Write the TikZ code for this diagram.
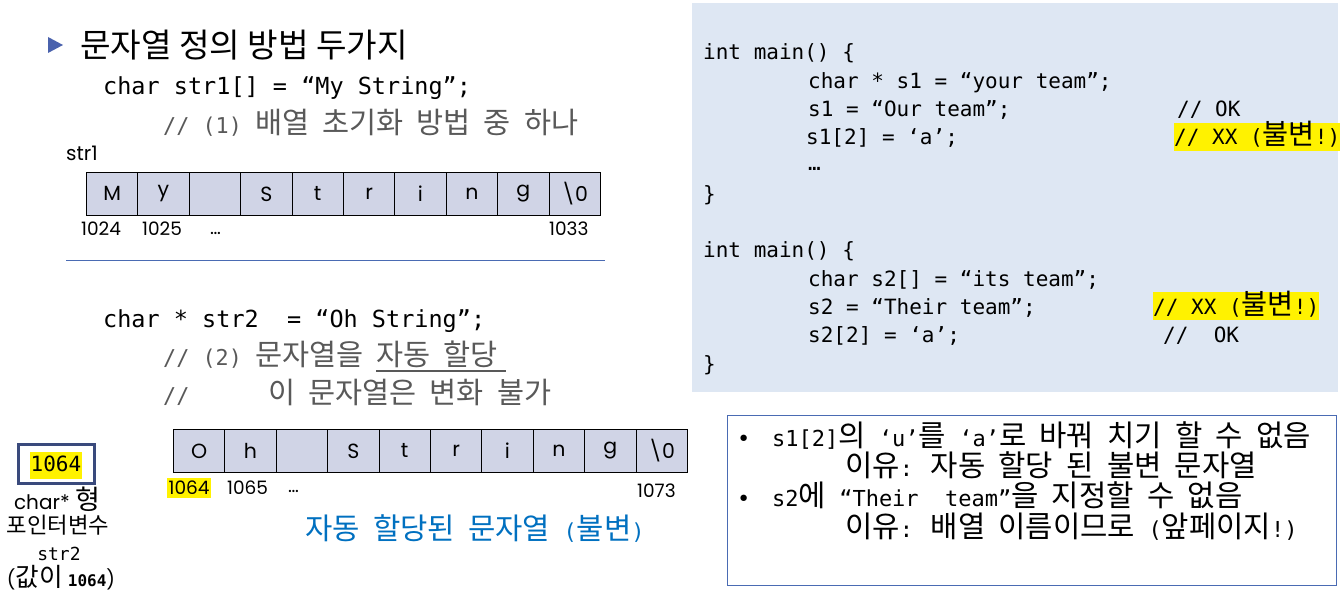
\documentclass[tikz,border=0pt]{standalone}
\usepackage{fontspec}
\newfontfamily\mono{DejaVu Sans Mono}
\newfontfamily\kr[Scale=1.35]{Noto Sans CJK KR}
\newfontfamily\gothic{Poppins}
\newcommand\K[1]{{\kr #1}}
\definecolor{boxbg}{HTML}{DEE7F3}
\definecolor{cellfill}{HTML}{D0D4E6}
\definecolor{navy}{HTML}{3A4A7C}
\definecolor{sepblue}{HTML}{4A6BB3}
\definecolor{tri}{HTML}{4A62AD}
\definecolor{bluetext}{HTML}{0070C0}
\definecolor{cgray}{HTML}{595959}
\tikzset{
  txt/.style={anchor=base west, inner sep=0},
  codeL/.style={txt, font=\fontsize{23.5}{28}\selectfont\mono},
  cmtL/.style={txt, text=cgray, font=\fontsize{21.8}{26}\selectfont\mono},
  codeR/.style={txt, font=\fontsize{21}{25}\selectfont\mono},
  noteT/.style={txt, font=\fontsize{22}{26}\selectfont\mono},
  cell/.style={draw, line width=0.8pt, fill=cellfill, minimum width=51.4, minimum height=43,
    inner sep=0, anchor=north west, font=\fontsize{20.5}{22}\selectfont\gothic},
  addr/.style={txt, font=\fontsize{18.5}{20}\selectfont\gothic},
  hl/.style={fill=yellow, inner xsep=0, inner ysep=0, text height=22, text depth=6},
  lbl/.style={anchor=base, inner sep=0, font=\fontsize{16.5}{20}\selectfont\gothic},
}
\begin{document}
\begin{tikzpicture}[x=1pt,y=-1pt]
\useasboundingbox (0,0) rectangle (1344,596);
\fill[white] (0,0) rectangle (1344,596);

% ---------- left: title ----------
\fill[tri] (48,37) -- (63,45) -- (48,53) -- cycle;
\node[txt, font=\fontsize{24.6}{30}\selectfont\kr] (title) at (80,58) {문자열 정의 방법 두가지};

% ---------- left: str1 ----------
\node[codeL] (l1) at (103,95) {char str1[] = “My String”;};
\node[cmtL] (l2) at (163,134) {// (1) \K{배열} \K{초기화} \K{방법} \K{중} \K{하나}};
\node[addr, font=\fontsize{20}{22}\selectfont\gothic] (s1lbl) at (66,161) {str1};
\foreach \t [count=\i from 0] in {M,y,{},S,t,r,i,n,g,\textbackslash 0}
  \node[cell] (a\i) at (86+51.4*\i,172) {\t};
\node[addr] (a1024) at (81,236) {1024};
\node[addr] (a1025) at (142,236) {1025};
\node[addr] (adots) at (210,234) {…};
\node[addr] (a1033) at (549,236) {1033};
\draw[sepblue, line width=1] (66,260) -- (605,260);

% ---------- left: str2 ----------
\node[codeL] (l3) at (103,327) {char * str2\ \ = “Oh String”;};
\node[cmtL] (l4) at (163,365) {// (2) \K{문자열을} \K{자동} \K{할당}};
\draw[cgray, line width=1.5] (376,371) -- (506,371);
\node[cmtL] (l5) at (163,403) {//\ \ \ \ \ \ \K{이} \K{문자열은} \K{변화} \K{불가}};
\foreach \t [count=\i from 0] in {O,h,{},S,t,r,i,n,g,\textbackslash 0}
  \node[cell] (b\i) at (173+51.4*\i,429) {\t};
\node[addr, fill=yellow, inner xsep=1.5, inner ysep=0, text height=16, text depth=4] (b1064) at (167,494) {1064};
\node[addr] (b1065) at (227,494) {1065};
\node[addr] (bdots) at (288,492) {…};
\node[addr] (b1073) at (637,497) {1073};
\node[txt, text=bluetext, font=\fontsize{22}{26}\selectfont\mono] (auto) at (305,539) {\K{자동} \K{할당된} \K{문자열} (\K{불변})};

% ---------- pointer variable ----------
\node[draw=navy, line width=3, minimum width=76, minimum height=39, inner sep=0] (ptr) at (56.5,464) {};
\node[hl, inner xsep=1, font=\fontsize{21}{25}\selectfont\mono, text height=20, text depth=7] (pv) at (56,465) {1064};
\node[lbl, font=\fontsize{20}{22}\selectfont\gothic] (p1) at (57,509) {char* \K{형}};
\node[lbl] (p2) at (58,533) {\K{포인터변수}};
\node[lbl, font=\fontsize{18}{20}\selectfont\mono] (p3) at (59,560) {str2};
\node[lbl, font=\fontsize{19}{22}\selectfont\gothic] (p4) at (61,586) {(\K{값이} {\mono\bfseries\fontsize{16}{18}\selectfont 1064})};

% ---------- right: code box ----------
\node[fill=boxbg, minimum width=646, minimum height=389, anchor=north west, inner sep=0] (codebox) at (692,3) {};
\node[codeR] (r1) at (703,60) {int main() \{};
\node[codeR] (r2) at (808,89) {char * s1 = “your team”;};
\node[codeR] (r3) at (808,117) {s1 = “Our team”;};
\node[codeR] (r3c) at (1177,117) {// OK};
\node[codeR] (r4) at (806,145) {s1[2] = ‘a’;};
\node[codeR, hl, anchor=base west] (r4c) at (1174,145) {// XX (\K{불변}!)};
\node[codeR] (r5) at (808,171) {…};
\node[codeR] (r6) at (703,202) {\}};
\node[codeR] (r7) at (703,258) {int main() \{};
\node[codeR] (r8) at (808,286) {char s2[] = “its team”;};
\node[codeR] (r9) at (808,314) {s2 = “Their team”;};
\node[codeR, hl, anchor=base west] (r9c) at (1153,314) {// XX (\K{불변}!)};
\node[codeR] (r10) at (808,342) {s2[2] = ‘a’;};
\node[codeR] (r10c) at (1163,342) {//\ \ OK};
\node[codeR] (r11) at (703,371) {\}};

% ---------- right: note box ----------
\node[draw=sepblue, line width=1, fill=white, anchor=north west, minimum width=609, minimum height=170, inner sep=0] (note) at (727,415) {};
\node[noteT] (n0) at (737,446) {•};
\node[noteT] (n1) at (772,446) {s1[2]\K{의} ‘u’\K{를} ‘a’\K{로} \K{바꿔} \K{치기} \K{할} \K{수} \K{없음}};
\node[noteT] (n2) at (845,476) {\K{이유}: \K{자동} \K{할당} \K{된} \K{불변} \K{문자열}};
\node[noteT] (n3b) at (737,506) {•};
\node[noteT] (n3) at (772,506) {s2\K{에} “Their\ \ team”\K{을} \K{지정할} \K{수} \K{없음}};
\node[noteT] (n4) at (845,537) {\K{이유}: \K{배열} \K{이름이므로} (\K{앞페이지}!)};
\end{tikzpicture}
\end{document}
